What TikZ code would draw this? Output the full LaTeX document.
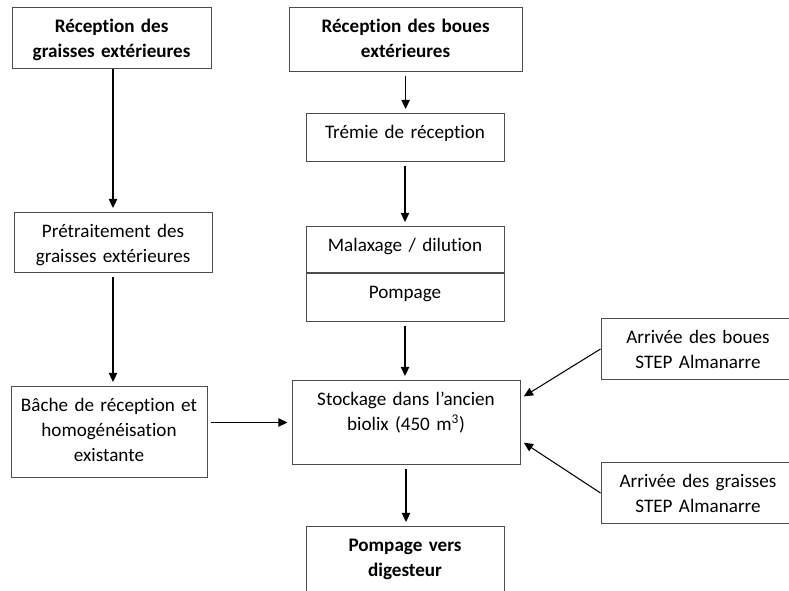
\documentclass[tikz,border=0pt]{standalone}
\usepackage{fontspec}
\setmainfont{Carlito}[Ligatures=NoCommon, WordSpace={1,0,0}]
\usetikzlibrary{arrows.meta, positioning, calc}

\tikzset{
  etape/.style 2 args={draw=black!70, line width=0.7pt, text width=#1, align=center,
    inner xsep=0pt, inner ysep=0pt, anchor=north, text height=0.625cm, text depth=#2},
  fleche/.style={-{Triangle[length=6.5pt, width=6pt]}, line width=0.75pt,
    shorten <=0.1cm, shorten >=0.1cm},
}

\begin{document}
\begin{tikzpicture}[font=\fontsize{13.6}{17.8}\selectfont]
        \useasboundingbox (0,0) rectangle (19.725,-14.75);
        \clip (0,0) rectangle (19.725,-14.75);

        % filière graisses extérieures
        \node[etape={4.975cm}{0.9cm}] (graisses) at (2.79,-0.175) {\textbf{Réception des}\\\textbf{graisses extérieures}};
        \node[etape={4.95cm}{0.875cm}] (pretrait) at (2.825,-5.3) {Prétraitement des\\graisses extérieures};
        \node[etape={4.9cm}{1.65cm}] (bache) at (2.725,-9.65) {Bâche de réception et\\homogénéisation\\existante};

        % filière boues extérieures
        \node[etape={5.825cm}{0.975cm}] (boues) at (10.14,-0.175) {\textbf{Réception des boues}\\\textbf{extérieures}};
        \node[etape={4.95cm}{0.575cm}] (tremie) at (10.125,-2.825) {Trémie de réception};
        \node[etape={4.95cm}{0.525cm}] (malax) at (10.125,-5.65) {Malaxage / dilution};
        \node[etape={4.95cm}{0.575cm}, below=0pt of malax] (pompage) {Pompage};

        % stockage et sortie
        \node[etape={5.7cm}{1.475cm}] (stockage) at (10.15,-9.5) {Stockage dans l’ancien\\biolix (450 m\textsuperscript{3})};
        \node[etape={4.95cm}{1.025cm}] (digesteur) at (10.125,-13.15) {\textbf{Pompage vers}\\\textbf{digesteur}};

        % apports STEP Almanarre
        \node[etape={4.85cm}{0.9cm}] (arrboues) at (17.45,-7.95) {Arrivée des boues\\STEP Almanarre};
        \node[etape={4.85cm}{0.9cm}] (arrgraisses) at (17.45,-11.55) {Arrivée des graisses\\STEP Almanarre};

        \draw[fleche, shorten <=0pt] (pretrait.north |- graisses.south) -- (pretrait.north);
        \draw[fleche] (pretrait.south) -- (pretrait.south |- bache.north);
        \draw[fleche] (bache.east |- stockage.west) -- (stockage.west);

        \draw[fleche] (boues.south) -- (boues.south |- tremie.north);
        \draw[fleche] (tremie.south) -- (malax.north);
        \draw[fleche] (pompage.south) -- (pompage.south |- stockage.north);
        \draw[fleche] (stockage.south) -- (stockage.south |- digesteur.north);

        \draw[fleche, shorten <=0pt] (arrboues.west) -- ([yshift=0.6cm]stockage.east);
        \draw[fleche, shorten <=0pt] (arrgraisses.west) -- ([yshift=-0.45cm]stockage.east);
\end{tikzpicture}
\end{document}
